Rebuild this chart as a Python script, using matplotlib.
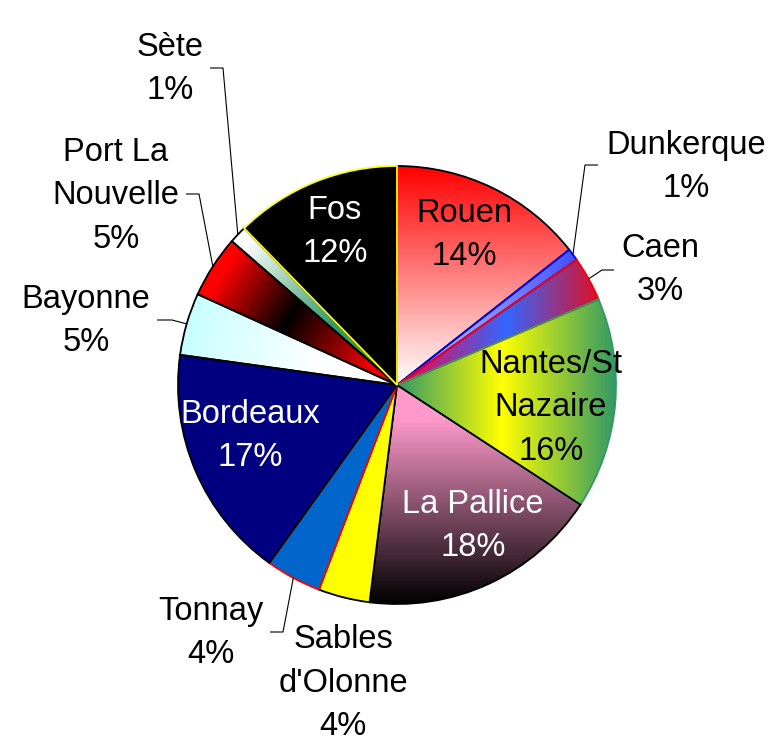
import numpy as np
import matplotlib.pyplot as plt
from matplotlib.colors import LinearSegmentedColormap

plt.rcParams["font.family"] = ["Liberation Sans", "DejaVu Sans"]

# share of traffic per port, clockwise from 12 o'clock
ports = ["Rouen", "Dunkerque", "Caen", "Nantes/St\nNazaire", "La Pallice",
         "Sables\nd'Olonne", "Tonnay", "Bordeaux", "Bayonne",
         "Port La\nNouvelle", "Sète", "Fos"]
shares = [14.4, 0.9, 3.3, 15.6, 17.8, 3.8, 4.1, 17.3, 4.6, 4.6, 1.3, 12.3]

# canvas in pixel units (y up)
W, H = 776, 747
CX, CY, R = 397, H - 385, 219

faces = ["none", "none", "none", "none", "none", "#ffff00", "#0066cc",
         "#000080", "none", "none", "none", "#000000"]
edges = ["black", "#0000ff", "#ff0000", "#339966", "black", "black", "#ff0000",
         "black", "black", "black", "black", "#ffff00"]
# gradient fills: direction, colour stops
grads = {
    0: ("up", [(0, "#ffffff"), (1, "#ff0000")]),
    1: ("x", [(0, "#d0d4ff"), (1, "#2233ff")]),
    2: ("x", [(0, "#ff0040"), (0.5, "#3366ff"), (1, "#ff0000")]),
    3: ("x", [(0, "#339966"), (0.48, "#ffff00"), (1, "#339966")]),
    4: ("down", [(0, "#ff99cc"), (0.15, "#ff99cc"), (1, "#000000")]),
    8: ("mid", [(0, "#ffffff"), (0.35, "#ffffff"), (1, "#c8ffff")]),
    9: ("mid", [(0, "#ff0000"), (0.15, "#ee0000"), (0.58, "#000000"),
                (0.95, "#ff0000"), (1, "#ff0000")]),
    10: ("mid", [(0, "#339966"), (0.4, "#339966"), (0.95, "#ffffff"), (1, "#ffffff")]),
}

# label block centres (px from top-left), text colour
label_pos = [(464, 235), (686, 167), (660, 270), (551, 408), (473, 526),
             (343, 683), (211, 633), (250, 436), (86, 321), (116, 196),
             (170, 69), (335, 232)]
label_col = ["black", "black", "black", "black", "white", "black", "black",
             "white", "black", "black", "black", "white"]
# leader lines for outside labels: elbow, end (px)
leaders = {
    1: ((585, 165), (598, 165)),
    2: ((602, 270), (614, 270)),
    6: ((283, 632), (270, 632)),
    8: ((172, 320), (157, 320)),
    9: ((199, 194), (186, 194)),
    10: ((223, 68), (210, 68)),
}

fig = plt.figure(figsize=(W / 100, H / 100), dpi=100)
ax = fig.add_axes([0, 0, 1, 1])

wedges, _ = ax.pie(shares, startangle=90, counterclock=False, center=(CX, CY),
                   radius=R, colors=faces,
                   wedgeprops=dict(linewidth=1.3))
for w, ec in zip(wedges, edges):
    w.set_edgecolor(ec)

xs = np.linspace(CX - R, CX + R, 500)
ys = np.linspace(CY - R, CY + R, 500)
X, Y = np.meshgrid(xs, ys)
for i, (mode, stops) in grads.items():
    w = wedges[i]
    if mode == "up":
        t = (Y - CY) / R
    elif mode == "down":
        t = (CY - Y) / R
    elif mode == "x":
        t = (X - CX) / R
    else:
        a = np.radians((w.theta1 + w.theta2) / 2)
        t = ((X - CX) * np.cos(a) + (Y - CY) * np.sin(a)) / R
    cmap = LinearSegmentedColormap.from_list(f"g{i}", stops)
    im = ax.imshow(cmap(np.clip(t, 0, 1)), extent=(CX - R, CX + R, CY - R, CY + R),
                   origin="lower", interpolation="bilinear", zorder=0.5)
    im.set_clip_path(w)

for i, (name, v) in enumerate(zip(ports, shares)):
    x, y = label_pos[i]
    ax.text(x, H - y, f"{name}\n{round(v)}%", ha="center", va="center",
            multialignment="center", fontsize=23.5, linespacing=1.51,
            color=label_col[i])
    if i in leaders:
        w = wedges[i]
        a = np.radians((w.theta1 + w.theta2) / 2)
        (ex, ey), (fx, fy) = leaders[i]
        ax.plot([CX + R * np.cos(a), ex, fx], [CY + R * np.sin(a), H - ey, H - fy],
                color="black", lw=0.8, solid_capstyle="butt")

ax.set_xlim(0, W)
ax.set_ylim(0, H)
ax.set_aspect("equal")
ax.axis("off")
fig.savefig("out.png", dpi=100)
